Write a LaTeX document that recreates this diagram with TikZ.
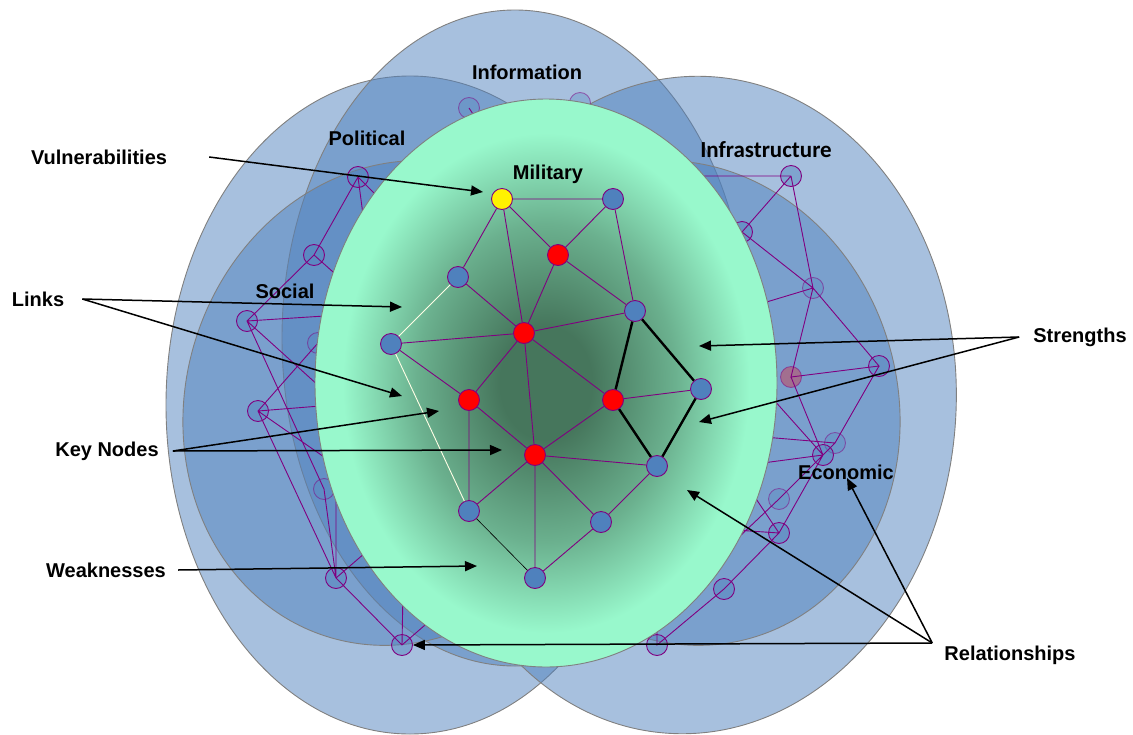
\documentclass[tikz,border=0pt]{standalone}
\usepackage{fontspec}
\setmainfont{Liberation Sans}
\newfontfamily\calibrifont{Carlito}
\usetikzlibrary{arrows.meta}
\definecolor{netblue}{RGB}{79,129,189}
\definecolor{netpurple}{RGB}{128,0,128}
\definecolor{mint}{RGB}{152,248,204}
\definecolor{coregreen}{RGB}{70,118,92}
\colorlet{midgreen}{coregreen!55!mint}
\pgfdeclareradialshading{militaryglow}{\pgfpoint{0bp}{0bp}}{color(0bp)=(coregreen); color(5bp)=(coregreen); color(14bp)=(midgreen); color(22bp)=(mint); color(50bp)=(mint)}

\begin{document}
\begin{tikzpicture}[x=1pt,y=-1pt,
  every node/.style={font=\fontsize{20}{24}\selectfont\bfseries},
  tag/.style={inner sep=0pt},
  zone/.style={draw=gray,fill=netblue,fill opacity=0.5,line width=0.9pt},
  link/.style={draw=netpurple,line width=0.9pt},
  dot/.style={circle,draw=netpurple,line width=0.9pt,fill=netblue,minimum size=21pt,inner sep=0pt},
  ghost/.style={dot,fill opacity=0.45},
  faint/.style={dot,fill opacity=0.3,draw opacity=0.5},
  keynode/.style={dot,fill=red},
  vulnode/.style={dot,fill=yellow},
  strong/.style={draw=black,line width=2.4pt},
  pointer/.style={-{Triangle[length=12pt,width=10pt]},line width=1.5pt}]
\useasboundingbox (0,0) rectangle (1133,734);

\path[zone] (410,405) ellipse [x radius=244, y radius=329];
\path[zone] (515,338) ellipse [x radius=233, y radius=328];
\path[zone,rotate around={-4:(690,405)}] (690,405) ellipse [x radius=266, y radius=329];
\path[zone,rotate around={-18:(401,403)}] (401,403) ellipse [x radius=215, y radius=245];
\path[zone,rotate around={18:(682,403)}] (682,403) ellipse [x radius=215, y radius=245];

\node[faint] (p1) at (469,108) {};
\node[ghost] (p2) at (358,177) {};
\node[ghost] (p3) at (314,255) {};
\node[ghost] (p4) at (247,321) {};
\node[faint] (p5) at (318,343) {};
\node[ghost] (p6) at (258,411) {};
\node[faint] (p7) at (324,489) {};
\node[ghost] (p8) at (336,578) {};
\node[ghost] (p9) at (402,645) {};
\node[faint] (q1) at (580,103) {};
\node[ghost] (i1) at (791,176) {};
\node[ghost] (i2) at (742,232) {};
\node[faint] (i3) at (813,288) {};
\node[faint,fill=red] (i4) at (791,377) {};
\node[ghost] (i5) at (879,366) {};
\node[faint] (e1) at (835,443) {};
\node[ghost] (e2) at (823,455) {};
\node[faint] (e3) at (779,499) {};
\node[ghost] (e4) at (779,533) {};
\node[ghost] (e5) at (724,589) {};
\node[ghost] (e6) at (657,645) {};
\coordinate (hp1) at (490,140);
\coordinate (hp2a) at (373,290);
\coordinate (hp2b) at (410,229);
\coordinate (hp3) at (360,296);
\coordinate (hp4a) at (340,315);
\coordinate (hp4b) at (330,396);
\coordinate (hp6a) at (345,404);
\coordinate (hp6b) at (350,475);
\coordinate (hp8a) at (336,470);
\coordinate (hp8b) at (380,540);
\coordinate (hp9a) at (403,590);
\coordinate (hp9b) at (440,612);
\coordinate (hq1) at (560,140);
\coordinate (hi1) at (700,176);
\coordinate (hi3) at (740,310);
\coordinate (he1) at (740,435);
\coordinate (he2a) at (740,362);
\coordinate (he2b) at (740,466);
\coordinate (he3) at (720,555);
\coordinate (he4a) at (740,475);
\coordinate (he4b) at (735,530);
\coordinate (he6) at (657,600);
\draw[link] (p1.center) -- (hp1) (q1.center) -- (hq1)
  (p2.center) -- (p3.center) -- (p4.center) -- (p7.center) -- (p8.center) -- (p9.center)
  (p2.center) -- (hp2a) (p2.center) -- (hp2b) (p3.center) -- (hp3)
  (p4.center) -- (hp4a) (p4.center) -- (hp4b) (p5.center) -- (p6.center) -- (p8.center)
  (p6.center) -- (hp6a) (p6.center) -- (hp6b) (p8.center) -- (hp8a) (p8.center) -- (hp8b)
  (p9.center) -- (hp9a) (p9.center) -- (hp9b);
\draw[link] (i1.center) -- (hi1) (i1.center) -- (i2.center) -- (i3.center) -- (i1.center)
  (i3.center) -- (hi3) (i3.center) -- (i4.center) -- (i5.center) -- (i3.center)
  (i4.center) -- (e2.center) (i5.center) -- (e1.center) -- (e3.center) (e1.center) -- (he1)
  (e2.center) -- (he2a) (e2.center) -- (he2b) (e2.center) -- (e4.center) (e3.center) -- (he3)
  (e4.center) -- (he4a) (e4.center) -- (he4b) (e4.center) -- (e5.center) -- (e6.center) -- (he6);

\shadedraw[shading=militaryglow,draw=gray,line width=0.9pt] (546,383) ellipse [x radius=231, y radius=284];

\node[vulnode] (yel) at (502,199) {};
\node[dot] (b1) at (613,199) {};
\node[keynode] (r1) at (558,255) {};
\node[dot] (b2) at (458,277) {};
\node[dot] (b3) at (635,311) {};
\node[keynode] (r2) at (524,333) {};
\node[dot] (b4) at (391,344) {};
\node[keynode] (r3) at (469,400) {};
\node[keynode] (r4) at (613,400) {};
\node[dot] (b5) at (701,389) {};
\node[keynode] (r5) at (535,455) {};
\node[dot] (b6) at (657,466) {};
\node[dot] (b7) at (469,511) {};
\node[dot] (b8) at (601,522) {};
\node[dot] (b9) at (535,578) {};
\draw[link] (yel) -- (b1) (yel) -- (r1) (yel) -- (b2) (yel) -- (r2)
  (b1) -- (r1) (b1) -- (b3) (r1) -- (r2) (r1) -- (b3)
  (b2) -- (r2) (r2) -- (b4) (r2) -- (b3) (r2) -- (r3) (r2) -- (r5) (r2) -- (r4)
  (b4) -- (r3) (r3) -- (r5) (r3) -- (b7) (r4) -- (r5) (r4) -- (b5)
  (r5) -- (b6) (r5) -- (b7) (r5) -- (b9) (r5) -- (b8) (b6) -- (b8) (b8) -- (b9);
\draw[draw=white!90!yellow,line width=0.9pt] (b2) -- (b4) -- (b7);
\draw[line width=0.6pt] (b7) -- (b9);
\draw[strong] (b3) -- (r4) -- (b6) -- (b5) -- (b3);

\node[tag] (info) at (527,72) {Information};
\node[tag] (poli) at (367,138) {Political};
\node[tag,font=\calibrifont\fontsize{23}{27}\selectfont\bfseries] (infra) at (766,150) {Infrastructure};
\node[tag] (mil) at (548,174) {Military};
\node[tag] (soc) at (285,291) {Social};
\node[tag] (econ) at (846,472) {Economic};
\node[tag] (vuln) at (99,157) {Vulnerabilities};
\node[tag] (links) at (38,299) {Links};
\node[tag] (keyn) at (107,451) {Key Nodes};
\node[tag] (weak) at (106,570) {Weaknesses};
\node[tag] (stren) at (1080,337) {Strengths};
\node[tag] (rel) at (1010,655) {Relationships};

\coordinate (vulnA) at (483,192);
\coordinate (linkA) at (402,307);
\coordinate (linkB) at (402,396);
\coordinate (keyA) at (439,411);
\coordinate (keyB) at (502,450);
\coordinate (weakA) at (477,566);
\coordinate (strA) at (699,346);
\coordinate (strB) at (699,422);
\coordinate (relA) at (687,490);
\coordinate (relB) at (847,478);
\draw[pointer] ([xshift=42pt]vuln.east) -- (vulnA);
\draw[pointer] ([xshift=18pt]links.east) -- (linkA);
\draw[pointer] ([xshift=18pt]links.east) -- (linkB);
\draw[pointer] ([xshift=14pt]keyn.east) -- (keyA);
\draw[pointer] ([xshift=14pt]keyn.east) -- (keyB);
\draw[pointer] ([xshift=12pt]weak.east) -- (weakA);
\draw[pointer] ([xshift=-14pt]stren.west) -- (strA);
\draw[pointer] ([xshift=-14pt]stren.west) -- (strB);
\draw[pointer] ([xshift=-12pt,yshift=12pt]rel.west) -- (relA);
\draw[pointer] ([xshift=-12pt,yshift=12pt]rel.west) -- (relB);
\draw[pointer] ([xshift=-12pt,yshift=12pt]rel.west) -- (p9.east);
\end{tikzpicture}
\end{document}
